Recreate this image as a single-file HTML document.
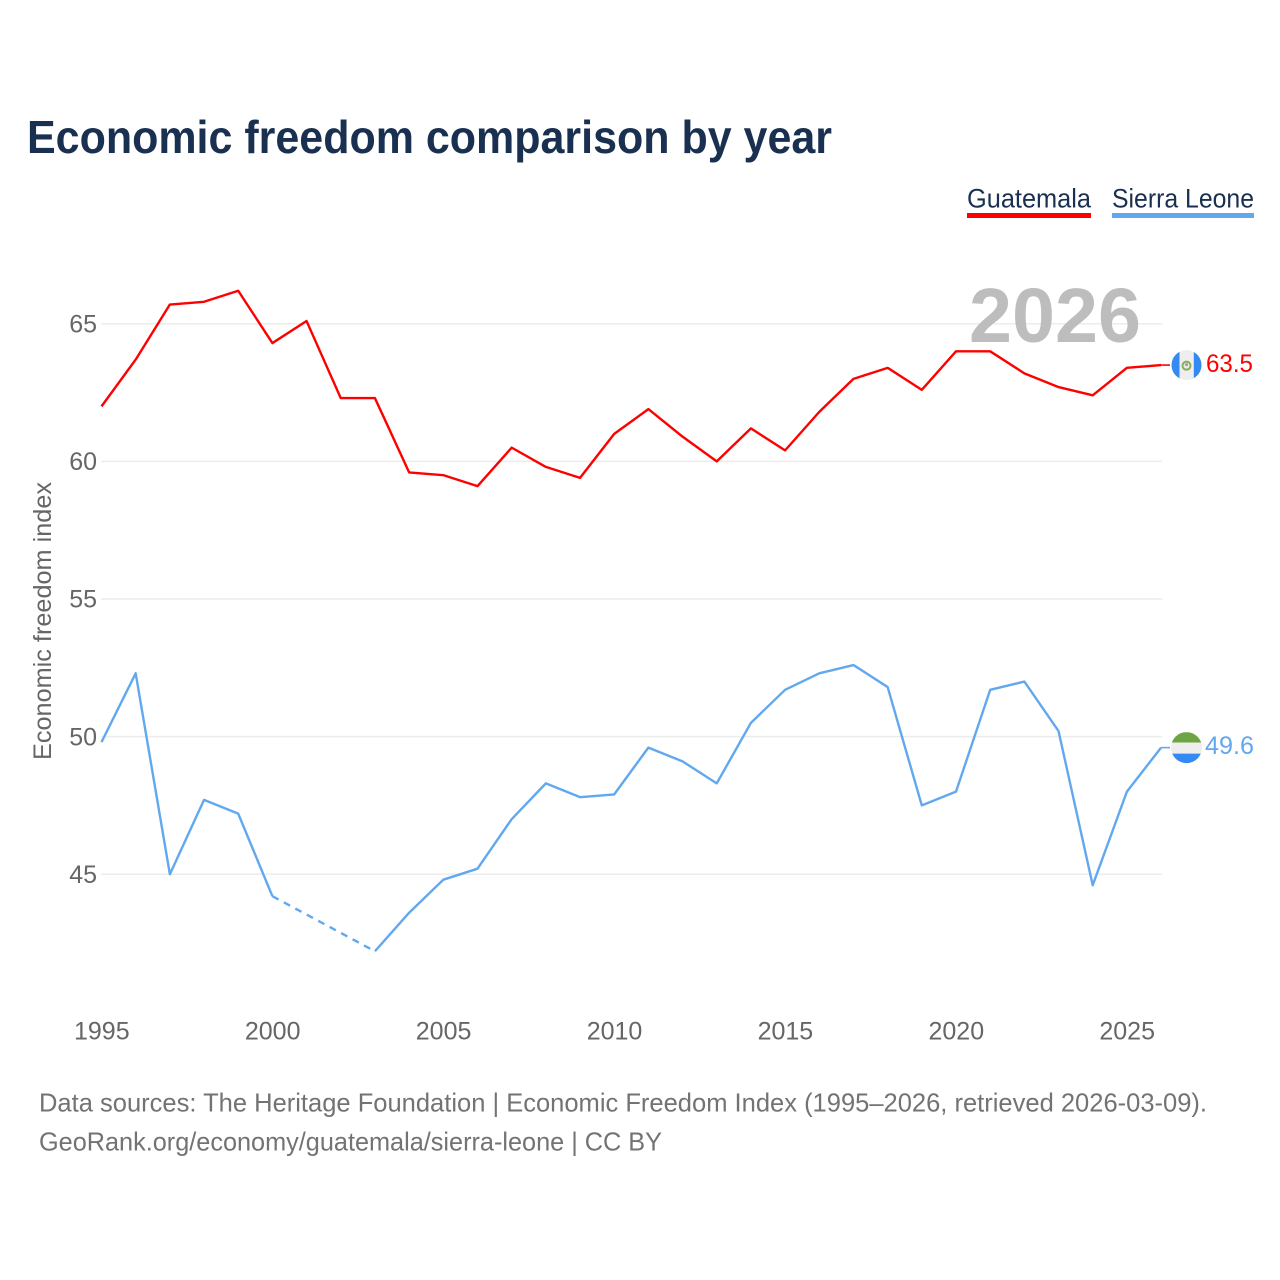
<!DOCTYPE html>
<html lang="en">
<head>
<meta charset="utf-8">
<title>Economic freedom comparison by year</title>
<style>
html,body{margin:0;padding:0;background:#fff;}
svg{display:block;font-family:"Liberation Sans",sans-serif;}
</style>
</head>
<body>
<svg id="chart" width="1280" height="1280" viewBox="0 0 1280 1280" xmlns="http://www.w3.org/2000/svg">
  <rect width="1280" height="1280" fill="#fff"/>
  <text x="27" y="153" font-size="46" font-weight="700" fill="#1a3050" textLength="805" lengthAdjust="spacingAndGlyphs">Economic freedom comparison by year</text>
  <g>
    <g>
      <text x="967" y="207.5" font-size="27" fill="#1a3050" textLength="124" lengthAdjust="spacingAndGlyphs">Guatemala</text>
      <rect x="967" y="213" width="124" height="5" fill="#ff0000"/>
    </g>
    <g>
      <text x="1112" y="207.5" font-size="27" fill="#1a3050" textLength="142" lengthAdjust="spacingAndGlyphs">Sierra Leone</text>
      <rect x="1112" y="213" width="142" height="5" fill="#62a8ee"/>
    </g>
  </g>
  <g id="grid"></g>
  <text x="969" y="342" font-size="77" font-weight="700" fill="#bdbdbd" textLength="172" lengthAdjust="spacingAndGlyphs">2026</text>
  <text transform="translate(51,621) rotate(-90)" text-anchor="middle" font-size="25" fill="#666" textLength="278" lengthAdjust="spacingAndGlyphs">Economic freedom index</text>
  <g id="y-ticks"></g>
  <g id="x-ticks"></g>
  <g id="series"></g>
  <defs>
    <clipPath id="clip-gt"><circle id="clip-gt-c" cx="1186.5" cy="365" r="15"/></clipPath>
    <clipPath id="clip-sl"><circle id="clip-sl-c" cx="1186.5" cy="748" r="15.5"/></clipPath>
  </defs>
  <g id="flag-gt">
    <g clip-path="url(#clip-gt)">
      <rect x="1171" y="349" width="31" height="32" fill="#eeeeee"/>
      <rect x="1171" y="349" width="8.5" height="32" fill="#338af3"/>
      <rect x="1193.8" y="349" width="8.5" height="32" fill="#338af3"/>
      <circle cx="1186.5" cy="365.5" r="4" fill="none" stroke="#8aab5c" stroke-width="2"/>
      <circle cx="1186.5" cy="364.5" r="1.6" fill="#a8a08a"/>
    </g>
  </g>
  <g id="flag-sl">
    <g clip-path="url(#clip-sl)">
      <rect x="1171" y="732" width="31" height="10.5" fill="#6da544"/>
      <rect x="1171" y="742.5" width="31" height="11" fill="#eeeeee"/>
      <rect x="1171" y="753.5" width="31" height="11" fill="#338af3"/>
    </g>
  </g>
  <text id="label-gt" x="1206" y="372" font-size="25" fill="#ff0000" textLength="47" lengthAdjust="spacingAndGlyphs"></text>
  <text id="label-sl" x="1205" y="754" font-size="25" fill="#62a8ee" textLength="49" lengthAdjust="spacingAndGlyphs"></text>
  <text x="39" y="1111.5" font-size="26" fill="#737373" textLength="1168" lengthAdjust="spacingAndGlyphs">Data sources: The Heritage Foundation | Economic Freedom Index (1995–2026, retrieved 2026-03-09).</text>
  <text x="39" y="1150.5" font-size="26" fill="#737373" textLength="623" lengthAdjust="spacingAndGlyphs">GeoRank.org/economy/guatemala/sierra-leone | CC BY</text>
</svg>
<script>
var years = [1995,1996,1997,1998,1999,2000,2001,2002,2003,2004,2005,2006,2007,2008,2009,2010,2011,2012,2013,2014,2015,2016,2017,2018,2019,2020,2021,2022,2023,2024,2025,2026];
var guatemala = [62.0,63.7,65.7,65.8,66.2,64.3,65.1,62.3,62.3,59.6,59.5,59.1,60.5,59.8,59.4,61.0,61.9,60.9,60.0,61.2,60.4,61.8,63.0,63.4,62.6,64.0,64.0,63.2,62.7,62.4,63.4,63.5];
var sierraLeone = [49.8,52.3,45.0,47.7,47.2,44.2,null,null,42.2,43.6,44.8,45.2,47.0,48.3,47.8,47.9,49.6,49.1,48.3,50.5,51.7,52.3,52.6,51.8,47.5,48.0,51.7,52.0,50.2,44.6,48.0,49.6];
var yTickValues = [45,50,55,60,65];
var xTickValues = [1995,2000,2005,2010,2015,2020,2025];

var NS = 'http://www.w3.org/2000/svg';
function xScale(year){ return 101.5 + (year - 1995) * 34.18; }
function yScale(v){ return 323.8 + (65 - v) * 27.52; }
function make(tag, attrs, parent){
  var el = document.createElementNS(NS, tag);
  for (var k in attrs) el.setAttribute(k, attrs[k]);
  parent.appendChild(el);
  return el;
}
var grid = document.getElementById('grid');
var yT = document.getElementById('y-ticks');
var xT = document.getElementById('x-ticks');
var seriesG = document.getElementById('series');

yTickValues.forEach(function(v){
  var line = make('line', {x1:101, x2:1162, y1:yScale(v), y2:yScale(v), stroke:'#ececec', 'stroke-width':1.5}, grid);
  
  
  var t = make('text', {x:97, y:yScale(v)+8.7, 'text-anchor':'end', 'font-size':25, fill:'#666'}, yT);
  t.textContent = v;
  
  
});
xTickValues.forEach(function(y){
  var t = make('text', {x:xScale(y)+0.3, y:1039.5, 'text-anchor':'middle', 'font-size':25, fill:'#666'}, xT);
  t.textContent = y;
  
  
});

function drawSeries(values, color, name){
  var solid = '', dashed = '', prev = -1, pen = false;
  values.forEach(function(v, i){
    if (v === null) { pen = false; return; }
    var p = xScale(years[i]).toFixed(2) + ' ' + yScale(v).toFixed(2);
    if (prev >= 0 && prev < i - 1) {
      dashed += 'M' + xScale(years[prev]).toFixed(2) + ' ' + yScale(values[prev]).toFixed(2) + 'L' + p;
    }
    solid += (pen ? 'L' : 'M') + p;
    pen = true;
    prev = i;
  });
  var last = values[values.length - 1];
  var lastX = xScale(years[years.length - 1]);
  var common = {fill:'none', stroke:color, 'stroke-width':2.4, 'stroke-linejoin':'round'};
  var conn = make('line', {x1:lastX, y1:yScale(last), x2:1170, y2:yScale(last), stroke:color, 'stroke-width':1.6}, seriesG);
  
  
  var s = make('path', Object.assign({d:solid}, common), seriesG);
  
  
  if (dashed) {
    var d = make('path', Object.assign({d:dashed, 'stroke-dasharray':'7 6'}, common), seriesG);
    
    
  }
}
drawSeries(guatemala, '#ff0000', 'guatemala');
drawSeries(sierraLeone, '#62a8ee', 'sierra-leone');

function placeEnd(values, flagId, clipId, labelId, baseY, baseOffset){
  var last = values[values.length - 1];
  var y = yScale(last);
  document.getElementById(flagId).setAttribute('transform', 'translate(0,' + (y - baseY) + ')');
  document.getElementById(clipId).setAttribute('cy', baseY);
  var label = document.getElementById(labelId);
  label.textContent = last.toFixed(1);
  label.setAttribute('y', y + baseOffset);
}
placeEnd(guatemala, 'flag-gt', 'clip-gt-c', 'label-gt', 364.9, 7);
placeEnd(sierraLeone, 'flag-sl', 'clip-sl-c', 'label-sl', 747.5, 6.3);
</script>
</body>
</html>
